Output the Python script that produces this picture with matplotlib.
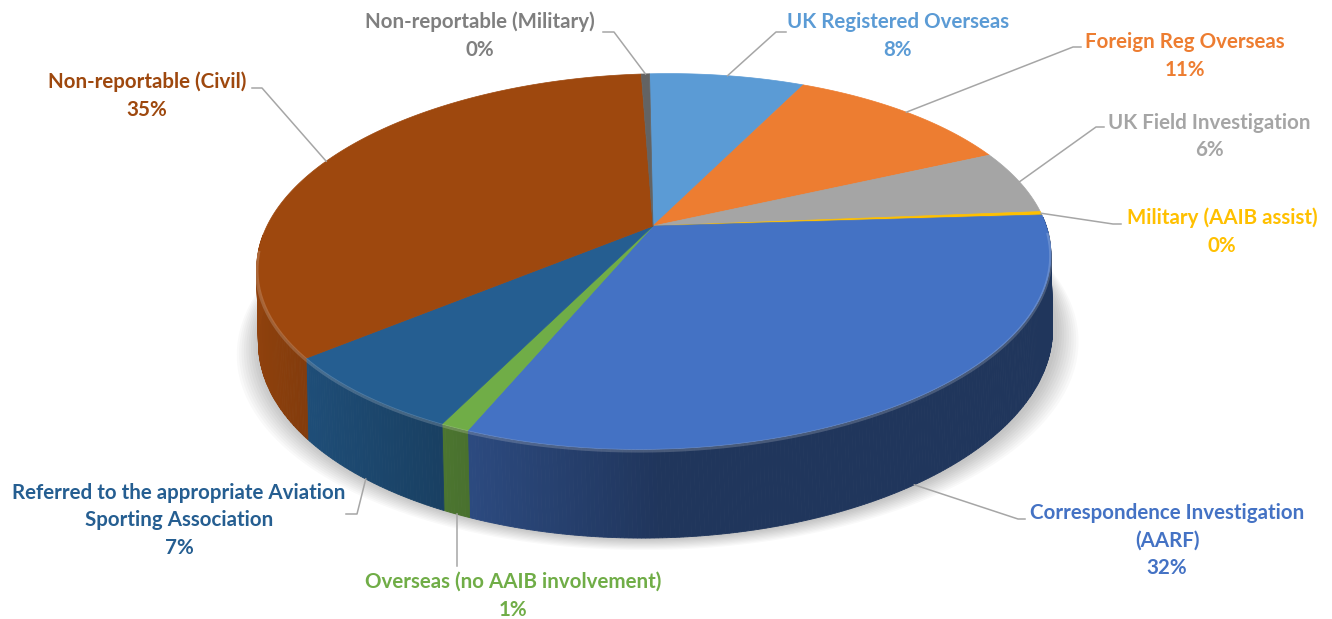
import numpy as np
import matplotlib.pyplot as plt
from matplotlib.patches import Polygon

# slice data, clockwise from 12 o'clock
categories = ["UK Registered Overseas", "Foreign Reg Overseas", "UK Field Investigation",
              "Military (AAIB assist)", "Correspondence Investigation (AARF)",
              "Overseas (no AAIB involvement)",
              "Referred to the appropriate Aviation Sporting Association",
              "Non-reportable (Civil)", "Non-reportable (Military)"]
values = [7.6, 11.3, 5.6, 0.3, 31.8, 1.0, 7.0, 35.0, 0.4]
colors = ['#5B9BD5', '#ED7D31', '#A5A5A5', '#FFC000', '#4472C4',
          '#70AD47', '#255E91', '#9E480E', '#636363']
text_colors = ['#5B9BD5', '#ED7D31', '#A5A5A5', '#FFC000', '#4472C4',
               '#70AD47', '#255E91', '#9E480E', '#7F7F7F']
label_lines = [["UK Registered Overseas"], ["Foreign Reg Overseas"], ["UK Field Investigation"],
               ["Military (AAIB assist)"], ["Correspondence Investigation", "(AARF)"],
               ["Overseas (no AAIB involvement)"],
               ["Referred to the appropriate Aviation", "Sporting Association"],
               ["Non-reportable (Civil)"], ["Non-reportable (Military)"]]

# layout (pixel positions of label blocks and leader stubs)
label_xy = [(898, 22), (1185, 42), (1209, 123), (1222, 218), (1167, 513),
            (513, 582), (179, 493), (147, 82), (480, 22)]
stub_x0 = [786, 1081, 1104, 1121, 1025, None, 346, 252, 603]
stub_x1 = [776, 1073, 1096, 1113, 1018, None, 357, 262, 614]
stub_y = [32, 47, 127, 224, 519, 566, 514, 88, 32]
line_gap = 27.5

# 3d pie projection parameters
CX, CY = 653, 226
RX, RY = 390, 181
PERSP = 0.189
DEPTH = 72
TILT = np.radians(1.3)


def project(theta, z=0.0):
    t = np.radians(theta)
    u, v = np.sin(t), np.cos(t)
    w = 1 + PERSP * v
    x = RX * u / w
    y = RY * v / w - z * DEPTH / w
    xr = x * np.cos(TILT) - y * np.sin(TILT)
    yr = x * np.sin(TILT) + y * np.cos(TILT)
    return CX + xr, CY - yr


def shade(hexcol, f):
    c = np.array([int(hexcol[i:i + 2], 16) for i in (1, 3, 5)]) / 255.0
    return tuple(np.clip(c * f, 0, 1))


fig = plt.figure(figsize=(13.32, 6.19), dpi=100)
ax = fig.add_axes([0, 0, 1, 1])
ax.set_xlim(0, 1332)
ax.set_ylim(619, 0)
ax.axis('off')

total = sum(values)
ends = np.cumsum(values) / total * 360
starts = np.concatenate([[0], ends[:-1]])
mids = (starts + ends) / 2

# soft shadow under the pie
full = np.linspace(0, 360, 361)
for s in range(10, 0, -1):
    bx, by = project(full, 1.0)
    bx = CX + (bx - CX) * (1 + 0.006 * s) + 2
    by = by + 1.2 * s
    ax.add_patch(Polygon(np.column_stack([bx, by]), closed=True, fc='black',
                         ec='none', alpha=0.022, zorder=1))

# side walls (only the front half is visible)
for i in range(len(values)):
    a0, a1 = max(starts[i], 90), min(ends[i], 270)
    if a1 <= a0:
        continue
    edges = np.linspace(a0, a1, max(2, int((a1 - a0) * 2) + 1))
    for t0, t1 in zip(edges[:-1], edges[1:]):
        tm = (t0 + t1) / 2
        f = 0.47 + 0.45 * max(0.0, -np.sin(np.radians(tm)))
        col = shade(colors[i], f)
        seg = np.linspace(t0, t1, 3)
        tx, ty = project(seg, 0.0)
        bx, by = project(seg[::-1], 1.0)
        pts = np.column_stack([np.concatenate([tx, bx]), np.concatenate([ty, by])])
        ax.add_patch(Polygon(pts, closed=True, fc=col, ec=col, lw=0.6, zorder=2))

# top faces
for i in range(len(values)):
    seg = np.linspace(starts[i], ends[i], max(3, int(values[i] * 8)))
    tx, ty = project(seg, 0.0)
    pts = np.column_stack([np.concatenate([[CX], tx]), np.concatenate([[CY], ty])])
    ax.add_patch(Polygon(pts, closed=True, fc=colors[i], ec=colors[i], lw=0.5, zorder=3))

# light bevel along the front rim
rim = np.linspace(95, 265, 200)
rx, ry = project(rim, 0.0)
ax.plot(rx, ry + 1.5, color='white', alpha=0.18, lw=2.5, zorder=4)

# labels and leader lines
font = dict(family=['Lato', 'DejaVu Sans'], fontweight='bold', fontsize=14.8)
for i in range(len(values)):
    lines = label_lines[i] + [f"{values[i]:.0f}%"]
    lx, ly = label_xy[i]
    for k, line in enumerate(lines):
        ax.text(lx, ly + k * line_gap, line, ha='center', va='center',
                color=text_colors[i], zorder=6, **font)
    z = 1.0 if 90 < mids[i] < 270 else 0.0
    px, py = project(mids[i], z)
    if stub_x0[i] is None:
        xs, ys = [px, px], [py, stub_y[i]]
    else:
        xs = [px, stub_x1[i], stub_x0[i]]
        ys = [py, stub_y[i], stub_y[i]]
    ax.plot(xs, ys, color='#A6A6A6', lw=1.1, zorder=5)

fig.savefig('out.png', dpi=100, facecolor='white')
